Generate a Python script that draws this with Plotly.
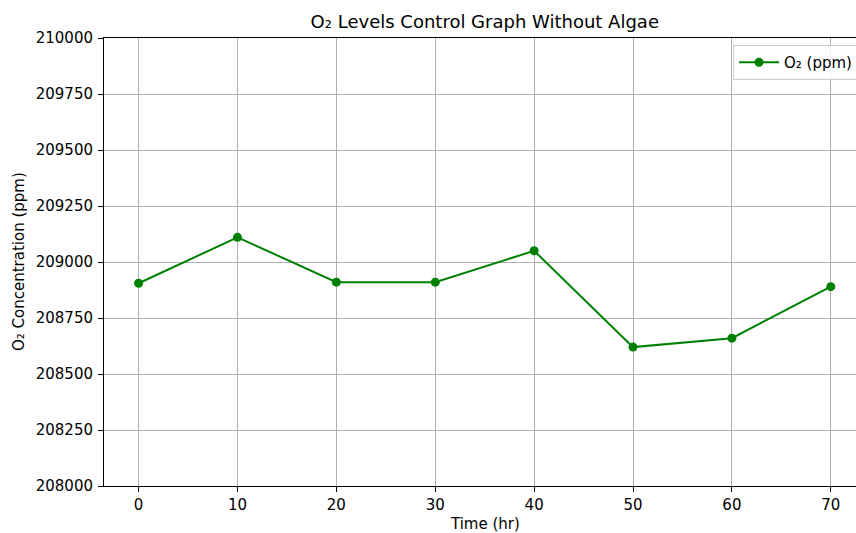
import plotly.graph_objects as go

# Time points (hours) and measured O2 concentration (ppm)
time_hr = [0, 10, 20, 30, 40, 50, 60, 70]
o2_ppm = [208905, 209110, 208910, 208910, 209050, 208620, 208660, 208890]

y_ticks = [208000, 208250, 208500, 208750, 209000, 209250, 209500, 209750, 210000]
x_ticks = [0, 10, 20, 30, 40, 50, 60, 70]

W, H = 856, 533
L, R, T, B = 104, 0, 38, 47

font_family = "DejaVu Sans"
green = "#008000"

fig = go.Figure()
fig.add_trace(go.Scatter(
    x=time_hr, y=o2_ppm, mode="lines+markers", name="O₂ (ppm)",
    line=dict(color=green, width=2),
    marker=dict(color=green, size=9),
))

axis_common = dict(
    showgrid=True, gridcolor="#b0b0b0", gridwidth=1,
    showline=True, linecolor="#000000", linewidth=1,
    ticks="outside", ticklen=5, tickwidth=1, tickcolor="#000000",
    tickfont=dict(family=font_family, size=15, color="#000000"),
    zeroline=False,
)

fig.update_xaxes(
    range=[-3.5, 72.55], tickvals=x_ticks, mirror=True, **axis_common
)
fig.update_yaxes(
    range=[208000, 210000], tickvals=y_ticks, tickformat="d",
    mirror=False, ticklabelstandoff=2, **axis_common
)

plot_w = W - L - R
center_x = (484.8 - L) / plot_w

fig.update_layout(
    width=W, height=H,
    margin=dict(l=L, r=R, t=T, b=B, pad=0, autoexpand=False),
    paper_bgcolor="white", plot_bgcolor="white",
    font=dict(family=font_family, color="#000000"),
    title=dict(
        text="O₂ Levels Control Graph Without Algae",
        font=dict(family=font_family, size=18, color="#000000"),
        xref="container", x=484.8 / W, xanchor="center",
        yref="container", y=1 - 22 / H, yanchor="middle",
    ),
    showlegend=True,
    legend=dict(
        x=(733 - L) / plot_w, y=1 - (45 - T) / (H - T - B),
        xanchor="left", yanchor="top",
        bgcolor="rgba(255,255,255,0.8)", bordercolor="#cccccc", borderwidth=1,
        font=dict(family=font_family, size=15, color="#000000"),
        itemwidth=40,
    ),
    annotations=[
        dict(text="Time (hr)", xref="paper", yref="paper",
             x=center_x, y=-(524 - (H - B)) / (H - T - B),
             xanchor="center", yanchor="middle", showarrow=False,
             font=dict(family=font_family, size=15, color="#000000")),
        dict(text="O₂ Concentration (ppm)", xref="paper", yref="paper",
             x=-(L - 19) / plot_w, y=0.5, textangle=-90,
             xanchor="center", yanchor="middle", showarrow=False,
             font=dict(family=font_family, size=15, color="#000000")),
    ],
)

fig.write_html("out.html")
